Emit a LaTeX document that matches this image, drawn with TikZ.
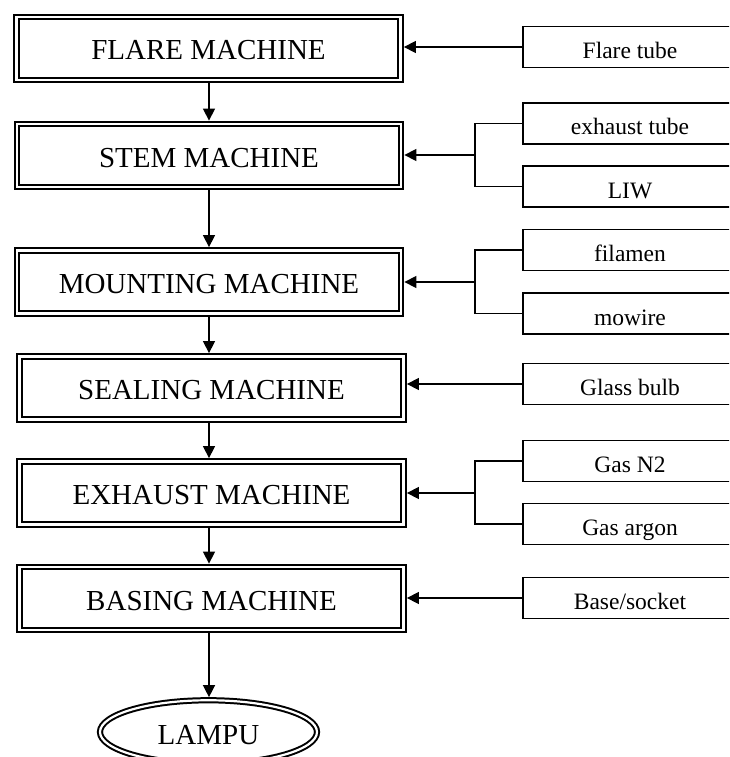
\documentclass[tikz,border=0pt]{standalone}
\usepackage{fontspec}
\setmainfont{Liberation Serif}
\usetikzlibrary{arrows.meta,shapes.geometric}
\begin{document}
\begin{tikzpicture}[x=1pt,y=-1pt,
  machine/.style={draw, double, line width=2.2pt, double distance=2.4pt,
    minimum width=384pt, minimum height=63pt, outer sep=3.4pt, inner sep=0pt,
    font=\fontsize{29}{30}\selectfont, text height=23pt, text depth=0pt},
  product/.style={ellipse, draw, double, line width=2pt, double distance=2.2pt,
    minimum width=217pt, minimum height=63.5pt, outer sep=3.1pt, inner sep=0pt,
    font=\fontsize{29}{30}\selectfont, text height=24pt, text depth=0pt},
  inputbox/.style={draw, line width=1.4pt, minimum width=214pt, minimum height=41pt,
    inner sep=0pt, font=\fontsize{23.5}{25}\selectfont, text height=23pt, text depth=0pt},
  link/.style={line width=1.4pt},
  conn/.style={line width=1.4pt, -{Triangle[length=12pt,width=12pt]}}
]
\useasboundingbox (0,0) rectangle (729,757);
\clip (0,0) rectangle (729,757);
\fill[white] (0,0) rectangle (729,757);

% machines
\node[machine] (flare) at (208.5,48.5) {FLARE MACHINE};
\node[machine] (stem) at (209,155.5) {STEM MACHINE};
\node[machine] (mount) at (209,282) {MOUNTING MACHINE};
\node[machine] (seal) at (211.5,388) {SEALING MACHINE};
\node[machine] (exh) at (211.5,493) {EXHAUST MACHINE};
\node[machine] (base) at (211.5,598.5) {BASING MACHINE};
\node[product] (lampu) at (208.5,732) {LAMPU};
\coordinate (col) at (209,0);

% inputs
\node[inputbox] (ft) at (630,47) {Flare tube};
\node[inputbox] (et) at (630,123.5) {exhaust tube};
\node[inputbox] (liw) at (630,186.5) {LIW};
\node[inputbox] (fil) at (630,250) {filamen};
\node[inputbox] (mow) at (630,313.5) {mowire};
\node[inputbox] (gb) at (630,384) {Glass bulb};
\node[inputbox] (n2) at (630,461) {Gas N2};
\node[inputbox] (ar) at (630,524) {Gas argon};
\node[inputbox] (bs) at (630,598) {Base/socket};

% brackets
\coordinate (b1) at (475,155);
\coordinate (b2) at (475,282);
\coordinate (b3) at (475,493);

% main flow
\draw[conn] (flare.south -| col) -- (stem.north -| col);
\draw[conn] (stem.south -| col) -- (mount.north -| col);
\draw[conn] (mount.south -| col) -- (seal.north -| col);
\draw[conn] (seal.south -| col) -- (exh.north -| col);
\draw[conn] (exh.south -| col) -- (base.north -| col);
\draw[conn] (base.south -| col) -- (lampu.north -| col);

% input connectors
\draw[conn] (ft.west) -- (flare.east |- ft.west);
\draw[link] (et.west) -| (b1) |- (liw.west);
\draw[conn] (b1) -- (stem.east |- b1);
\draw[link] (fil.west) -| (b2) |- (mow.west);
\draw[conn] (b2) -- (mount.east |- b2);
\draw[conn] (gb.west) -- (seal.east |- gb.west);
\draw[link] (n2.west) -| (b3) |- (ar.west);
\draw[conn] (b3) -- (exh.east |- b3);
\draw[conn] (bs.west) -- (base.east |- bs.west);
\end{tikzpicture}
\end{document}
